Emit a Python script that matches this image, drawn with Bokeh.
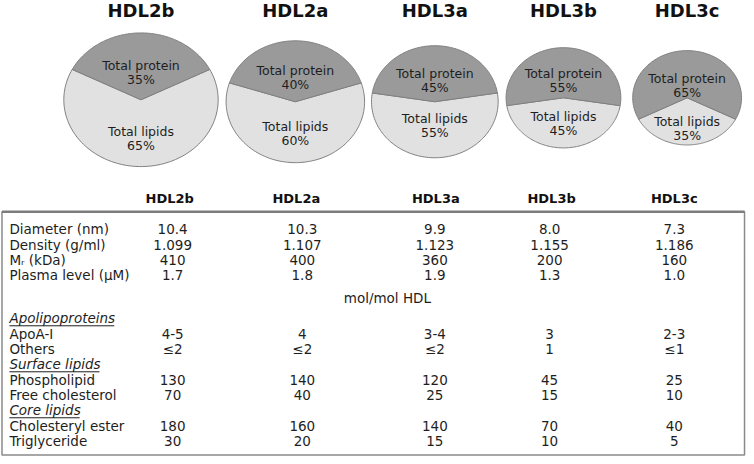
import numpy as np
from bokeh.plotting import figure
from bokeh.models import Range1d
from bokeh.core.properties import value
from bokeh.embed import file_html
from bokeh.resources import INLINE

# ---------------- data ----------------
classes = ["HDL2b", "HDL2a", "HDL3a", "HDL3b", "HDL3c"]
protein_pct = [35, 40, 45, 55, 65]
lipid_pct = [65, 60, 55, 45, 35]

row_labels_top = ["Diameter (nm)", "Density (g/ml)", "M\u1d63 (kDa)", "Plasma level (\u03bcM)"]
diameter = ["10.4", "10.3", "9.9", "8.0", "7.3"]
density = ["1.099", "1.107", "1.123", "1.155", "1.186"]
mr_kda = ["410", "400", "360", "200", "160"]
plasma = ["1.7", "1.8", "1.9", "1.3", "1.0"]

unit_label = "mol/mol HDL"
sections = ["Apolipoproteins", "Surface lipids", "Core lipids"]
section_rows = [["ApoA-I", "Others"], ["Phospholipid", "Free cholesterol"], ["Cholesteryl ester", "Triglyceride"]]
apoa1 = ["4-5", "4", "3-4", "3", "2-3"]
others = ["\u22642", "\u22642", "\u22642", "1", "\u22641"]
phospholipid = ["130", "140", "120", "45", "25"]
free_chol = ["70", "40", "25", "15", "10"]
chol_ester = ["180", "160", "140", "70", "40"]
triglyceride = ["30", "20", "15", "10", "5"]

# ---------------- layout / style ----------------
FONT = value("DejaVu Sans")
TXT = "#1e1e1e"
PROT_COL = "#9a9a9a"
LIP_COL = "#e1e1e1"
EDGE = "#808080"

pie_cx = [142, 298, 439, 569, 694]
pie_cy = [101, 103, 103, 99, 99]
pie_rx = [78, 70, 64, 58, 55]
pie_ry = [68, 62, 57, 51, 48]
prot_label_dy = [-35, -32, -29, -25, -20]
lip_label_dy = [32, 25, 17, 19, 24]
title_y = 10

col_head_x = [171, 299, 440, 557, 681]
col_val_x = [174, 305, 439, 555, 681]

p = figure(width=746, height=456, output_backend="svg", toolbar_location=None,
           x_range=Range1d(0, 754), y_range=Range1d(464, 0), min_border=0)
p.axis.visible = False
p.grid.visible = False
p.outline_line_color = None
p.background_fill_color = "white"
p.border_fill_color = "white"

# ---------------- pies ----------------
def arc_pts(cx, cy, rx, ry, t0, t1, n=120):
    t = np.radians(np.linspace(t0, t1, n))
    return list(cx + rx * np.cos(t)), list(cy - ry * np.sin(t))

xs_p, ys_p, xs_l, ys_l = [], [], [], []
for i in range(len(classes)):
    span = protein_pct[i] * 3.6
    a0, a1 = 90 - span / 2, 90 + span / 2
    ax, ay = arc_pts(pie_cx[i], pie_cy[i], pie_rx[i], pie_ry[i], a0, a1)
    xs_p.append([pie_cx[i]] + ax)
    ys_p.append([pie_cy[i]] + ay)
    bx, by = arc_pts(pie_cx[i], pie_cy[i], pie_rx[i], pie_ry[i], a1, a0 + 360)
    xs_l.append([pie_cx[i]] + bx)
    ys_l.append([pie_cy[i]] + by)

p.patches(xs_l, ys_l, fill_color=LIP_COL, line_color=EDGE, line_width=1)
p.patches(xs_p, ys_p, fill_color=PROT_COL, line_color=EDGE, line_width=1)

# titles
p.text(x=pie_cx, y=[title_y] * 5, text=classes, text_font=FONT, text_font_style="bold",
       text_font_size="18px", text_align="center", text_baseline="middle", text_color="#111111")

# pie labels
for i in range(5):
    py = pie_cy[i] + prot_label_dy[i]
    ly = pie_cy[i] + lip_label_dy[i]
    p.text(x=[pie_cx[i]] * 4, y=[py, py + 14.5, ly, ly + 14.5],
           text=["Total protein", f"{protein_pct[i]}%", "Total lipids", f"{lipid_pct[i]}%"],
           text_font=FONT, text_font_size="12.5px", text_align="center",
           text_baseline="middle", text_color=TXT)

# ---------------- table ----------------
p.text(x=col_head_x, y=[201] * 5, text=classes, text_font=FONT, text_font_style="bold",
       text_font_size="13px", text_align="center", text_baseline="middle", text_color="#111111")

p.quad(left=[1.5], right=[752], top=[215], bottom=[462.5], fill_color=None,
       line_color="#8a8a8a", line_width=1.5)
p.segment(x0=[1.5], y0=[215], x1=[752], y1=[215], line_color="#7c7c7c", line_width=2.5)

FS = "13.5px"
label_x = 9
row_y0 = 233
dy = 15.6

top_vals = [diameter, density, mr_kda, plasma]
for r, (lab, vals) in enumerate(zip(row_labels_top, top_vals)):
    y = row_y0 + r * dy
    p.text(x=[label_x], y=[y], text=[lab], text_font=FONT, text_font_size=FS,
           text_align="left", text_baseline="middle", text_color=TXT)
    p.text(x=col_val_x, y=[y] * 5, text=vals, text_font=FONT, text_font_size=FS,
           text_align="center", text_baseline="middle", text_color=TXT)

p.text(x=[391], y=[303], text=[unit_label], text_font=FONT, text_font_size=FS,
       text_align="center", text_baseline="middle", text_color=TXT)

sec_vals = [[apoa1, others], [phospholipid, free_chol], [chol_ester, triglyceride]]
underline_w = [106, 91, 71]
y = 323.5
for s in range(3):
    p.text(x=[label_x], y=[y], text=[sections[s]], text_font=FONT, text_font_size=FS,
           text_font_style="italic", text_align="left", text_baseline="middle", text_color=TXT)
    p.segment(x0=[label_x], y0=[y + 7.5], x1=[label_x + underline_w[s]], y1=[y + 7.5],
              line_color=TXT, line_width=1)
    y += dy
    for lab, vals in zip(section_rows[s], sec_vals[s]):
        p.text(x=[label_x], y=[y], text=[lab], text_font=FONT, text_font_size=FS,
               text_align="left", text_baseline="middle", text_color=TXT)
        p.text(x=col_val_x, y=[y] * 5, text=vals, text_font=FONT, text_font_size=FS,
               text_align="center", text_baseline="middle", text_color=TXT)
        y += dy

open("out.html", "w").write(file_html(p, INLINE))
